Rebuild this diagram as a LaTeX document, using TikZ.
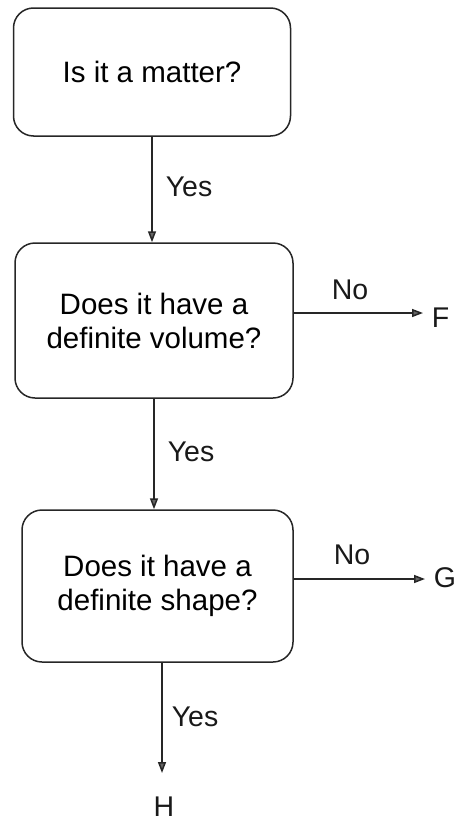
\documentclass[tikz,border=0pt]{standalone}
\usepackage{fontspec}
\setmainfont{Liberation Sans}
\usetikzlibrary{arrows.meta}
\tikzset{
  qbox/.style={draw=black!85, line width=1.5pt, rounded corners=20pt, align=center,
    font=\fontsize{29.5}{34}\selectfont, inner sep=0pt},
  arr/.style={draw=black!85, line width=1.5pt, -{Triangle[length=11pt,width=8pt,fill=black!60]}},
  lbl/.style={font=\fontsize{28.5}{30}\selectfont, inner sep=0pt, text=black!90},
}
\begin{document}
\begin{tikzpicture}[x=1pt,y=-1pt]
\useasboundingbox (0,0) rectangle (460,822);
\node[qbox, minimum width=277pt, minimum height=128pt] (b1) at (152,72) {Is it a matter?};
\node[qbox, minimum width=278pt, minimum height=155pt] (b2) at (154,320.5) {Does it have a\\definite volume?};
\node[qbox, minimum width=271pt, minimum height=152pt] (b3) at (157.5,586) {Does it have a\\definite shape?};
\coordinate (fend) at (423,313);
\coordinate (gend) at (425,579);
\coordinate (hend) at (162,773);
\node[lbl] (F) at (440.5,318) {F};
\node[lbl] (G) at (445,578) {G};
\node[lbl] (H) at (164,807) {H};
\draw[arr] (b1.south) -- (b1.south |- b2.north);
\draw[arr] (b2.south) -- (b2.south |- b3.north);
\draw[arr] (b3.south -| hend) -- (hend);
\draw[arr] (b2.east |- fend) -- (fend);
\draw[arr] (b3.east |- gend) -- (gend);
\node[lbl] (y1) at (189,187) {Yes};
\node[lbl] (y2) at (191,452) {Yes};
\node[lbl] (y3) at (195,717) {Yes};
\node[lbl] (n1) at (350,290) {No};
\node[lbl] (n2) at (352,555) {No};
\end{tikzpicture}
\end{document}
